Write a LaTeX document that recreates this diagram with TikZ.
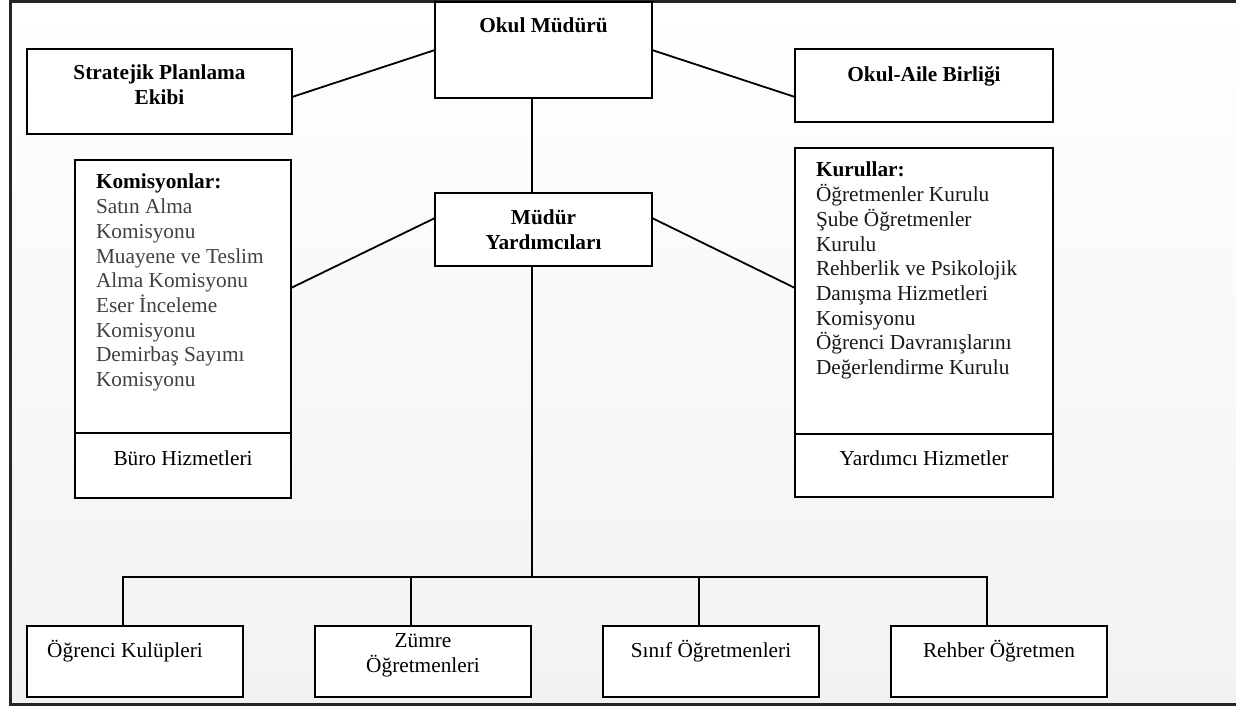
\documentclass[tikz,border=0pt]{standalone}
\usepackage{fontspec}
\setmainfont{Liberation Serif}
\definecolor{framec}{HTML}{262626}
\definecolor{komgray}{HTML}{404040}
\definecolor{bggray}{HTML}{F2F2F2}
\begin{document}
\begin{tikzpicture}[x=1pt,y=-1pt,
  box/.style={draw=black, fill=white, line width=1.8pt, inner sep=0pt, outer sep=0pt},
  conn/.style={draw=black, line width=1.8pt},
  lbl/.style={inner sep=0pt, outer sep=0pt, font=\fontsize{21.3}{24.7}\selectfont},
  blbl/.style={lbl, font=\fontsize{21.3}{24.7}\selectfont\bfseries}]
\useasboundingbox (0,0) rectangle (1236,706);
\fill[white] (0,0) rectangle (1236,706);
\shade[top color=white, bottom color=bggray] (10,0) rectangle (1236,706);
\draw[framec, line width=3pt] (1236,1.5) -- (10,1.5) -- (10,704.5) -- (1236,704.5);

% boxes
\node[box, minimum width=217pt, minimum height=96pt] (om) at (543.5,50) {};
\node[box, minimum width=265pt, minimum height=85pt] (sp) at (159.5,91.5) {};
\node[box, minimum width=258pt, minimum height=73pt] (oa) at (924,85.5) {};
\node[box, minimum width=217pt, minimum height=73pt] (my) at (543.5,229.5) {};
\node[box, minimum width=216pt, minimum height=338pt] (kom) at (183,329) {};
\node[box, minimum width=258pt, minimum height=349pt] (kur) at (924,322.5) {};
\draw[conn] (kom.west |- 0,433) -- (kom.east |- 0,433);
\draw[conn] (kur.west |- 0,434) -- (kur.east |- 0,434);
\node[box, minimum width=216pt, minimum height=71pt] (b1) at (135,661.5) {};
\node[box, minimum width=216pt, minimum height=71pt] (b2) at (423,661.5) {};
\node[box, minimum width=216pt, minimum height=71pt] (b3) at (711,661.5) {};
\node[box, minimum width=216pt, minimum height=71pt] (b4) at (999,661.5) {};

% texts
\node[blbl, anchor=base] (omt) at (543.5,33) {Okul Müdürü};
\node[blbl, anchor=north, align=center] (spt) at (159.5,62.7) {\strut Stratejik Planlama\\Ekibi};
\node[blbl, anchor=base] (oat) at (924,82) {Okul-Aile Birliği};
\node[blbl, anchor=north, align=center] (myt) at (543.5,207.7) {\strut Müdür\\Yardımcıları};
\node[lbl, anchor=north west, align=left, text=komgray] (komt) at (96,171.7)
  {{\color{black}\bfseries\strut Komisyonlar:}\\Satın Alma\\Komisyonu\\Muayene ve Teslim\\Alma Komisyonu\\Eser İnceleme\\Komisyonu\\Demirbaş Sayımı\\Komisyonu};
\node[lbl, anchor=north west, align=left, text=black!90] (kurt) at (816,159.7)
  {{\color{black}\bfseries\strut Kurullar:}\\Öğretmenler Kurulu\\Şube Öğretmenler\\Kurulu\\Rehberlik ve Psikolojik\\Danışma Hizmetleri\\Komisyonu\\Öğrenci Davranışlarını\\Değerlendirme Kurulu};
\node[lbl, anchor=base] (burot) at (183,465) {Büro Hizmetleri};
\node[lbl, anchor=base] (yardt) at (924,465) {Yardımcı Hizmetler};
\node[lbl, anchor=base] (b1t) at (125,657) {Öğrenci Kulüpleri};
\node[lbl, anchor=north, align=center] (b2t) at (423,630.7) {\strut Zümre\\Öğretmenleri};
\node[lbl, anchor=base] (b3t) at (711,657) {Sınıf Öğretmenleri};
\node[lbl, anchor=base] (b4t) at (999,657) {Rehber Öğretmen};

% connectors
\draw[conn] ([yshift=-5.5pt]sp.east) -- (om.west);
\draw[conn] (om.east) -- ([yshift=-11.5pt]oa.west);
\draw[conn] ([xshift=-11.5pt]om.south) -- ([xshift=-11.5pt]my.north);
\draw[conn] ([yshift=11.5pt]my.west) -- ([yshift=41pt]kom.east);
\draw[conn] ([yshift=11.5pt]my.east) -- ([yshift=34.5pt]kur.west);
\coordinate (bus) at (532,577);
\draw[conn] ([xshift=-11.5pt]my.south) -- (bus);
\draw[conn] ([xshift=-12pt]b1.north) -- ([xshift=-12pt]b1.north |- bus) -- ([xshift=-12pt]b4.north |- bus) -- ([xshift=-12pt]b4.north);
\draw[conn] ([xshift=-12pt]b2.north) -- ([xshift=-12pt]b2.north |- bus);
\draw[conn] ([xshift=-12pt]b3.north) -- ([xshift=-12pt]b3.north |- bus);
\end{tikzpicture}
\end{document}
